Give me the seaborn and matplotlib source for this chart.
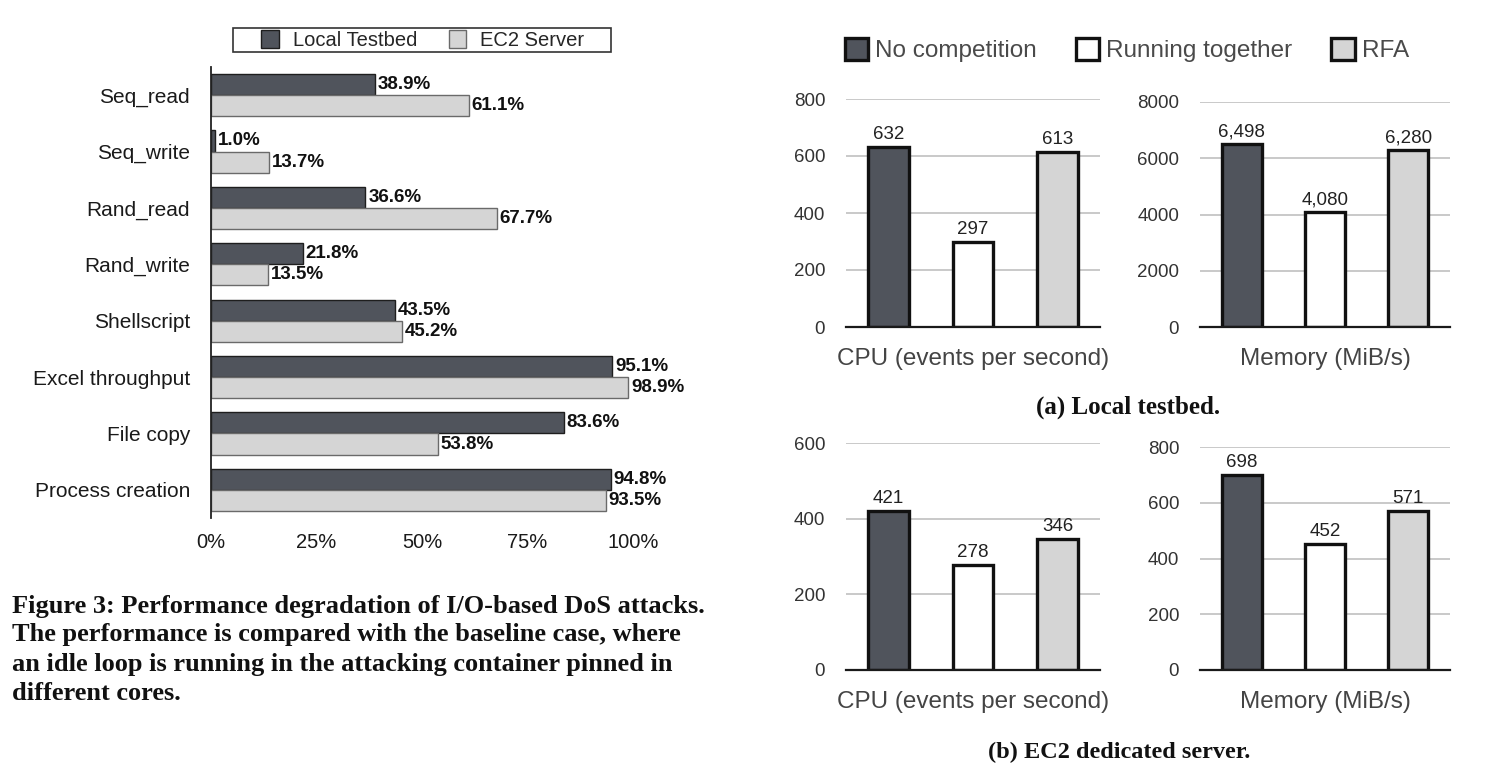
import pandas as pd
import matplotlib.pyplot as plt
import seaborn as sns
from matplotlib.patches import Patch, Rectangle

# ---- data: left chart (I/O-based DoS degradation) ----
tests = ["Seq_read", "Seq_write", "Rand_read", "Rand_write", "Shellscript",
         "Excel throughput", "File copy", "Process creation"]
local_testbed = [38.9, 1.0, 36.6, 21.8, 43.5, 95.1, 83.6, 94.8]
ec2_server = [61.1, 13.7, 67.7, 13.5, 45.2, 98.9, 53.8, 93.5]
io_series = ["Local Testbed", "EC2 Server"]
pct_ticks = [0, 25, 50, 75, 100]

# ---- data: right charts (RFA) ----
modes = ["No competition", "Running together", "RFA"]
local_cpu = [632, 297, 613]
local_mem = [6498, 4080, 6280]
ec2_cpu = [421, 278, 346]
ec2_mem = [698, 452, 571]

caption_left = [
    "Figure 3: Performance degradation of I/O-based DoS attacks.",
    "The performance is compared with the baseline case, where",
    "an idle loop is running in the attacking container pinned in",
    "different cores.",
]

DARK = "#50545c"
LIGHT = "#d5d5d5"
W, H = 1502, 774

sns.set_theme(style="white")
plt.rcParams["font.family"] = ["Liberation Sans", "DejaVu Sans"]

fig = plt.figure(figsize=(W / 100, H / 100), dpi=100)


def box(x0, x1, y_top, y_bot):
    # pixel box -> figure fraction rect
    return [x0 / W, 1 - y_bot / H, (x1 - x0) / W, (y_bot - y_top) / H]


# ================= left chart =================
df = pd.DataFrame({
    "test": tests * 2,
    "series": [io_series[0]] * len(tests) + [io_series[1]] * len(tests),
    "value": local_testbed + ec2_server,
})

ax = fig.add_axes(box(211, 633, 67, 518))
sns.barplot(data=df, y="test", x="value", hue="series", orient="h",
            palette=[DARK, LIGHT], width=0.75, saturation=1,
            edgecolor="#222222", linewidth=1.0, legend=False, ax=ax)
for cont, ec in zip(ax.containers, ["#1e1e1e", "#6a6a6a"]):
    for bar in cont:
        bar.set_edgecolor(ec)
    ax.bar_label(cont, labels=[f"{b.get_width():.1f}%" for b in cont],
                 padding=2, fontsize=13.5, fontweight="bold", color="#111111",
                 clip_on=False)

ax.set_xlim(0, 100)
ax.set_ylim(7.5, -0.5)
ax.set_xticks(pct_ticks)
ax.set_xticklabels([f"{t}%" for t in pct_ticks])
ax.set_xlabel("")
ax.set_ylabel("")
for s in ["top", "right", "bottom"]:
    ax.spines[s].set_visible(False)
ax.spines["left"].set_color("#222222")
ax.spines["left"].set_linewidth(1.3)
ax.tick_params(axis="y", length=0, pad=15, labelsize=15, labelcolor="#1a1a1a")
ax.tick_params(axis="x", length=0, pad=11, labelsize=14.5, labelcolor="#1a1a1a")
ax.grid(False)

# legend for left chart, framed box
fig.patches.append(Rectangle((233 / W, 1 - 52 / H), 378 / W, 24 / H,
                             transform=fig.transFigure, facecolor="white",
                             edgecolor="#333333", linewidth=1.2, zorder=1))
fig.legend(handles=[Patch(facecolor=DARK, edgecolor="#1e1e1e", label=io_series[0]),
                    Patch(facecolor=LIGHT, edgecolor="#6a6a6a", label=io_series[1])],
           loc="center", bbox_to_anchor=(423 / W, 1 - 40 / H), ncol=2,
           frameon=False, fontsize=14.5, handlelength=0.85, handleheight=0.95,
           handletextpad=0.7, columnspacing=1.6, borderpad=0.1)

serif = ["Liberation Serif", "DejaVu Serif"]
for i, line in enumerate(caption_left):
    fig.text(12 / W, 1 - (606 + 29 * i) / H, line, ha="left", va="center",
             fontsize=19, fontweight="bold", family=serif, color="#111111")

# ================= right charts =================
panel_colors = [DARK, "white", LIGHT]


def draw_panel(ax, values, ymax, step, label):
    sns.barplot(x=modes, y=values, hue=modes, palette=panel_colors,
                saturation=1, width=0.48, edgecolor="#111111", linewidth=2.4,
                legend=False, ax=ax)
    for cont in ax.containers:
        ax.bar_label(cont, labels=[f"{int(round(b.get_height())):,}" for b in cont],
                     padding=3, fontsize=13.5, color="#222222")
    ax.set_ylim(0, ymax)
    ax.set_xlim(-0.5, 2.5)
    ax.set_yticks(range(0, ymax + 1, step))
    ax.set_xticks([])
    ax.set_xlabel(label, fontsize=17.5, color="#444444", labelpad=15)
    ax.set_ylabel("")
    ax.yaxis.grid(True, color="#c9c9c9", linewidth=1.4)
    ax.set_axisbelow(True)
    for s in ["top", "right", "left"]:
        ax.spines[s].set_visible(False)
    ax.spines["bottom"].set_color("#1a1a1a")
    ax.spines["bottom"].set_linewidth(1.6)
    ax.tick_params(axis="y", length=0, pad=15, labelsize=13.5, labelcolor="#333333")


ax_a1 = fig.add_axes(box(846, 1100, 99, 327))
draw_panel(ax_a1, local_cpu, 800, 200, "CPU (events per second)")
ax_a2 = fig.add_axes(box(1200, 1450, 102, 327))
draw_panel(ax_a2, local_mem, 8000, 2000, "Memory (MiB/s)")
ax_b1 = fig.add_axes(box(846, 1100, 443, 670))
draw_panel(ax_b1, ec2_cpu, 600, 200, "CPU (events per second)")
ax_b2 = fig.add_axes(box(1200, 1450, 447, 670))
draw_panel(ax_b2, ec2_mem, 800, 200, "Memory (MiB/s)")

fig.legend(handles=[Patch(facecolor=c, edgecolor="#111111", linewidth=2.4, label=m)
                    for c, m in zip(panel_colors, modes)],
           loc="center", bbox_to_anchor=(1127 / W, 1 - 50 / H), ncol=3,
           frameon=False, fontsize=17.5, labelcolor="#4a4a4a",
           handlelength=0.95, handleheight=1.05, handletextpad=0.3,
           columnspacing=1.6, borderpad=0.1)

fig.text(1128 / W, 1 - 407 / H, "(a) Local testbed.", ha="center", va="center",
         fontsize=18, fontweight="bold", family=serif, color="#111111")
fig.text(1119 / W, 1 - 752 / H, "(b) EC2 dedicated server.", ha="center", va="center",
         fontsize=17.5, fontweight="bold", family=serif, color="#111111")

fig.savefig("out.png", dpi=100, facecolor="white")
